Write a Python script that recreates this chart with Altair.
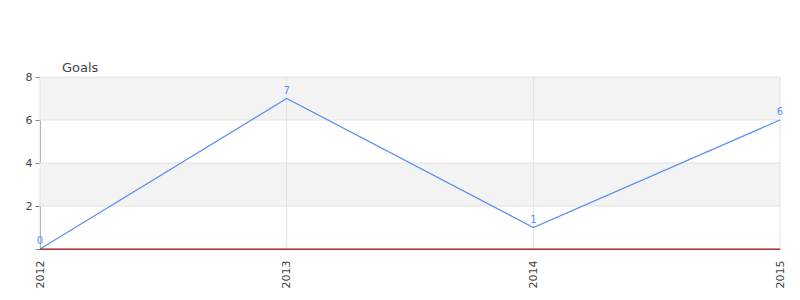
import altair as alt
import pandas as pd

years = ["2012", "2013", "2014", "2015"]
goals = [0, 7, 1, 6]
band_lo = [2, 6]
band_hi = [4, 8]
grid_values = [2, 4, 6, 8]
tick_values = [0, 1, 2, 3, 4, 5, 6, 7, 8]

df = pd.DataFrame({"year": years, "goals": goals})
bands = pd.DataFrame({"lo": band_lo, "hi": band_hi})
hgrid = pd.DataFrame({"g": grid_values})
zero = pd.DataFrame({"z": [0]})

FONT = "DejaVu Sans"
BLUE = "#5b8ff0"
GRID = "#e3e3e3"

yscale = alt.Scale(domain=[0, 8], nice=False, zero=True)
xscale = alt.Scale(type="point", padding=0)

yaxis = alt.Axis(
    title=None, values=tick_values, grid=False,
    tickSize={"condition": {"test": "datum.value % 2 == 1", "value": 3}, "value": 5},
    tickColor="#888", domainColor="#888", labelFontSize=11, labelFont=FONT,
    labelColor="#444", labelPadding=3,
    labelExpr="(datum.value == 0 || datum.value % 2 == 1) ? '' : datum.label",
)
xaxis = alt.Axis(
    title=None, labelAngle=-90, ticks=False, labelPadding=11, labelFontSize=11,
    labelFont=FONT, labelColor="#444", domainColor="#777", grid=False,
    labelAlign="right", labelBaseline="middle",
)

band_layer = alt.Chart(bands).mark_rect(color="#f3f3f3").encode(
    y=alt.Y("lo:Q", scale=yscale, axis=yaxis),
    y2="hi:Q",
)

hgrid_layer = alt.Chart(hgrid).mark_rule(color=GRID, strokeWidth=1).encode(
    y=alt.Y("g:Q", scale=yscale),
)

vgrid_layer = alt.Chart(df).mark_rule(color=GRID, strokeWidth=1).encode(
    x=alt.X("year:N", scale=xscale, sort=years, axis=xaxis),
)

line = alt.Chart(df).mark_line(color=BLUE, strokeWidth=1.2).encode(
    x=alt.X("year:N", scale=xscale, sort=years, axis=xaxis),
    y=alt.Y("goals:Q", scale=yscale, axis=yaxis),
)

labels = alt.Chart(df).mark_text(color=BLUE, fontSize=10, font=FONT, dy=-8).encode(
    x=alt.X("year:N", scale=xscale, sort=years),
    y=alt.Y("goals:Q", scale=yscale),
    text=alt.Text("goals:Q"),
)

redline = alt.Chart(zero).mark_rule(color="#cc0000", strokeWidth=1).encode(
    y=alt.Y("z:Q", scale=yscale),
)

chart = alt.layer(band_layer, hgrid_layer, vgrid_layer, line, redline, labels).properties(
    width=740, height=172,
    padding={"left": 40, "top": 77, "right": 20, "bottom": 51},
    autosize=alt.AutoSizeParams(type="none"),
    title=alt.TitleParams("Goals", anchor="start", dx=37, dy=8, offset=4, fontSize=13,
                          font=FONT, fontWeight="normal", color="#444"),
).configure_view(stroke=None).configure_axis(labelOverlap=False)

chart.save("out.html", embed_options={"renderer": "svg", "actions": False})
